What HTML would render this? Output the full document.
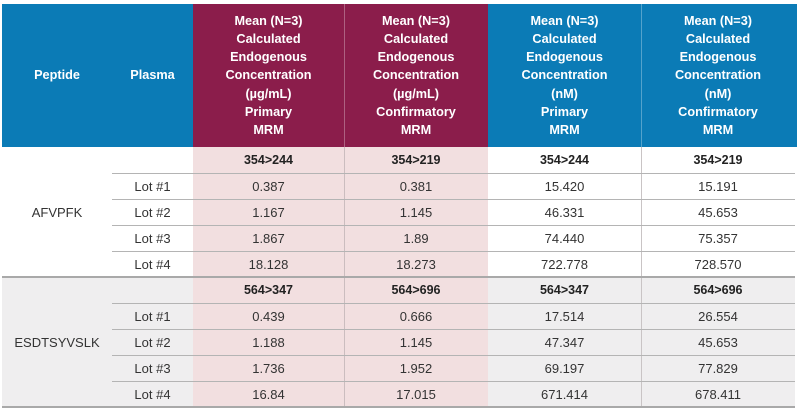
<!DOCTYPE html>
<html><head><meta charset="utf-8">
<style>
*{margin:0;padding:0;box-sizing:border-box}
body{width:800px;height:413px;background:#fff;position:relative;overflow:hidden;font-family:"Liberation Sans",Arial,sans-serif}
.c{position:absolute;display:flex;align-items:center;justify-content:center;text-align:center}
.h{color:#fff;font-weight:bold;font-size:12.7px;line-height:18.2px}
.b{color:#333;font-size:13px}
.t{color:#222;font-size:12.5px;font-weight:bold}
.hl{position:absolute;height:1px;background:#b4b4b4}
.vl{position:absolute;width:1px;background:#c9c4c5}
</style></head><body>
<!-- header backgrounds -->
<div style="position:absolute;left:2px;top:4px;width:191px;height:143px;background:#0b7bb6"></div>
<div style="position:absolute;left:193px;top:4px;width:295px;height:143px;background:#8b1d4b"></div>
<div style="position:absolute;left:488px;top:4px;width:309px;height:143px;background:#0b7bb6"></div>
<div style="position:absolute;left:344px;top:4px;width:1px;height:143px;background:rgba(255,255,255,0.3)"></div>
<div style="position:absolute;left:641px;top:4px;width:1px;height:143px;background:rgba(255,255,255,0.3)"></div>
<!-- body backgrounds -->
<div style="position:absolute;left:193px;top:147px;width:295px;height:260px;background:#f2dfe0"></div>
<div style="position:absolute;left:2px;top:277px;width:191px;height:130px;background:#efeeef"></div>
<div style="position:absolute;left:488px;top:277px;width:307px;height:130px;background:#efeeef"></div>
<!-- vertical lines -->
<div class="vl" style="left:344px;top:147px;height:260px;background:#cbbdbf"></div>
<div class="vl" style="left:641px;top:147px;height:260px"></div>
<!-- horizontal lines -->
<div class="hl" style="left:112px;top:173px;width:683px"></div>
<div class="hl" style="left:112px;top:199px;width:683px"></div>
<div class="hl" style="left:112px;top:225px;width:683px"></div>
<div class="hl" style="left:112px;top:251px;width:683px"></div>
<div class="hl" style="left:2px;top:276px;width:793px;height:2px;background:#a9a9a9"></div>
<div class="hl" style="left:112px;top:303px;width:683px"></div>
<div class="hl" style="left:112px;top:329px;width:683px"></div>
<div class="hl" style="left:112px;top:355px;width:683px"></div>
<div class="hl" style="left:112px;top:381px;width:683px"></div>
<div class="hl" style="left:2px;top:406px;width:793px;height:2px;background:#a9a9a9"></div>

<!-- header text -->
<div class="c h" style="left:2px;top:4px;width:110px;height:143px">Peptide</div>
<div class="c h" style="left:112px;top:4px;width:81px;height:143px">Plasma</div>
<div class="c h" style="left:193px;top:4px;width:151px;height:143px">Mean (N=3)<br>Calculated<br>Endogenous<br>Concentration<br>(µg/mL)<br>Primary<br>MRM</div>
<div class="c h" style="left:344px;top:4px;width:144px;height:143px">Mean (N=3)<br>Calculated<br>Endogenous<br>Concentration<br>(µg/mL)<br>Confirmatory<br>MRM</div>
<div class="c h" style="left:488px;top:4px;width:153px;height:143px">Mean (N=3)<br>Calculated<br>Endogenous<br>Concentration<br>(nM)<br>Primary<br>MRM</div>
<div class="c h" style="left:641px;top:4px;width:154px;height:143px">Mean (N=3)<br>Calculated<br>Endogenous<br>Concentration<br>(nM)<br>Confirmatory<br>MRM</div>

<!-- group 1 -->
<div class="c b" style="left:2px;top:147px;width:110px;height:130px">AFVPFK</div>
<div class="c t" style="left:193px;top:147px;width:151px;height:26px">354&gt;244</div>
<div class="c t" style="left:344px;top:147px;width:144px;height:26px">354&gt;219</div>
<div class="c t" style="left:488px;top:147px;width:153px;height:26px">354&gt;244</div>
<div class="c t" style="left:641px;top:147px;width:154px;height:26px">354&gt;219</div>

<div class="c b" style="left:112px;top:173px;width:81px;height:26px">Lot #1</div>
<div class="c b" style="left:193px;top:173px;width:151px;height:26px">0.387</div>
<div class="c b" style="left:344px;top:173px;width:144px;height:26px">0.381</div>
<div class="c b" style="left:488px;top:173px;width:153px;height:26px">15.420</div>
<div class="c b" style="left:641px;top:173px;width:154px;height:26px">15.191</div>

<div class="c b" style="left:112px;top:199px;width:81px;height:26px">Lot #2</div>
<div class="c b" style="left:193px;top:199px;width:151px;height:26px">1.167</div>
<div class="c b" style="left:344px;top:199px;width:144px;height:26px">1.145</div>
<div class="c b" style="left:488px;top:199px;width:153px;height:26px">46.331</div>
<div class="c b" style="left:641px;top:199px;width:154px;height:26px">45.653</div>

<div class="c b" style="left:112px;top:225px;width:81px;height:26px">Lot #3</div>
<div class="c b" style="left:193px;top:225px;width:151px;height:26px">1.867</div>
<div class="c b" style="left:344px;top:225px;width:144px;height:26px">1.89</div>
<div class="c b" style="left:488px;top:225px;width:153px;height:26px">74.440</div>
<div class="c b" style="left:641px;top:225px;width:154px;height:26px">75.357</div>

<div class="c b" style="left:112px;top:251px;width:81px;height:26px">Lot #4</div>
<div class="c b" style="left:193px;top:251px;width:151px;height:26px">18.128</div>
<div class="c b" style="left:344px;top:251px;width:144px;height:26px">18.273</div>
<div class="c b" style="left:488px;top:251px;width:153px;height:26px">722.778</div>
<div class="c b" style="left:641px;top:251px;width:154px;height:26px">728.570</div>

<!-- group 2 -->
<div class="c b" style="left:2px;top:277px;width:110px;height:130px">ESDTSYVSLK</div>
<div class="c t" style="left:193px;top:277px;width:151px;height:26px">564&gt;347</div>
<div class="c t" style="left:344px;top:277px;width:144px;height:26px">564&gt;696</div>
<div class="c t" style="left:488px;top:277px;width:153px;height:26px">564&gt;347</div>
<div class="c t" style="left:641px;top:277px;width:154px;height:26px">564&gt;696</div>

<div class="c b" style="left:112px;top:303px;width:81px;height:26px">Lot #1</div>
<div class="c b" style="left:193px;top:303px;width:151px;height:26px">0.439</div>
<div class="c b" style="left:344px;top:303px;width:144px;height:26px">0.666</div>
<div class="c b" style="left:488px;top:303px;width:153px;height:26px">17.514</div>
<div class="c b" style="left:641px;top:303px;width:154px;height:26px">26.554</div>

<div class="c b" style="left:112px;top:329px;width:81px;height:26px">Lot #2</div>
<div class="c b" style="left:193px;top:329px;width:151px;height:26px">1.188</div>
<div class="c b" style="left:344px;top:329px;width:144px;height:26px">1.145</div>
<div class="c b" style="left:488px;top:329px;width:153px;height:26px">47.347</div>
<div class="c b" style="left:641px;top:329px;width:154px;height:26px">45.653</div>

<div class="c b" style="left:112px;top:355px;width:81px;height:26px">Lot #3</div>
<div class="c b" style="left:193px;top:355px;width:151px;height:26px">1.736</div>
<div class="c b" style="left:344px;top:355px;width:144px;height:26px">1.952</div>
<div class="c b" style="left:488px;top:355px;width:153px;height:26px">69.197</div>
<div class="c b" style="left:641px;top:355px;width:154px;height:26px">77.829</div>

<div class="c b" style="left:112px;top:381px;width:81px;height:26px">Lot #4</div>
<div class="c b" style="left:193px;top:381px;width:151px;height:26px">16.84</div>
<div class="c b" style="left:344px;top:381px;width:144px;height:26px">17.015</div>
<div class="c b" style="left:488px;top:381px;width:153px;height:26px">671.414</div>
<div class="c b" style="left:641px;top:381px;width:154px;height:26px">678.411</div>
</body></html>
